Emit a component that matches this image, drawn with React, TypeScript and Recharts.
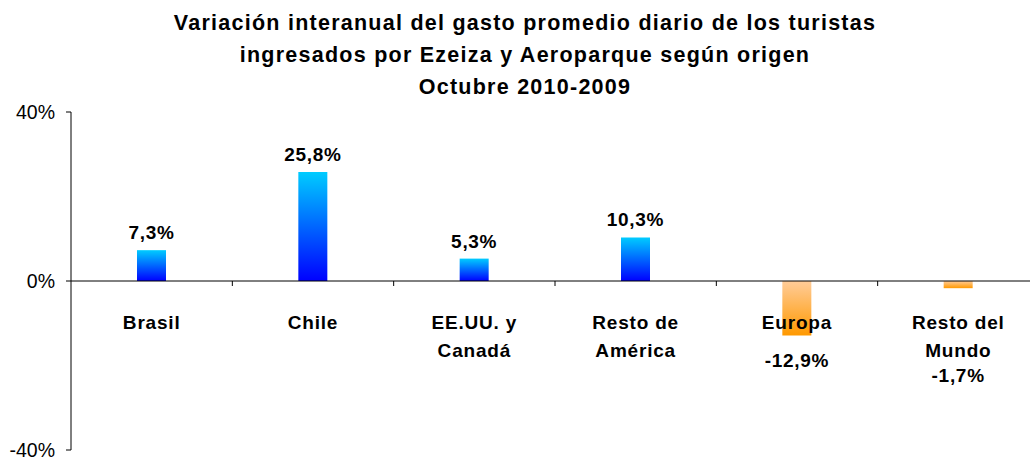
import { BarChart, Bar, XAxis, YAxis, ReferenceLine, LabelList, Cell } from "recharts";

const categories = [
  ["Brasil"],
  ["Chile"],
  ["EE.UU. y", "Canadá"],
  ["Resto de", "América"],
  ["Europa"],
  ["Resto del", "Mundo"],
];
const variation = [7.3, 25.8, 5.3, 10.3, -12.9, -1.7];
const yTicks = [-40, 0, 40];
const titleLines = [
  "Variación interanual del gasto promedio diario de los turistas",
  "ingresados por Ezeiza y Aeroparque según origen",
  "Octubre 2010-2009",
];

const W = 1030;
const H = 457;
const PLOT_TOP = 112;
const PLOT_BOTTOM = 450;
const ZERO_Y = (PLOT_TOP + PLOT_BOTTOM) / 2;
const FONT = '"Liberation Sans", Arial, Helvetica, sans-serif';
const BAND = (1039 - 71) / categories.length;

const data = categories.map((lines, i) => ({ key: lines.join(" "), lines, value: variation[i] }));

const fmt = (v: number) => `${v.toFixed(1).replace(".", ",")}%`;

// category labels hang under the zero line, Excel style
function CategoryTick(props: any) {
  const { x, index } = props;
  const lines: string[] = data[index]?.lines ?? [];
  return (
    <g>
      <line x1={x + BAND / 2} x2={x + BAND / 2} y1={ZERO_Y} y2={ZERO_Y + 5} stroke="#000" />
      <text x={x} textAnchor="middle" fontFamily={FONT} fontWeight="bold" fontSize={19} letterSpacing={0.8} fill="#000">
        {lines.map((l, i) => (
          <tspan key={i} x={x} y={ZERO_Y + 48 + i * 28}>
            {l}
          </tspan>
        ))}
      </text>
    </g>
  );
}

function ValueLabel(props: any) {
  const { x, y, width, height, value, index } = props;
  const top = Math.min(y, y + height);
  const bottom = Math.max(y, y + height);
  let baseline = top - 11;
  if (value < 0) {
    const nLines = data[index]?.lines.length ?? 1;
    const catBase = ZERO_Y + 48 + 28 * (nLines - 1);
    baseline = Math.max(bottom + 31, catBase + 25);
  }
  return (
    <text x={x + width / 2} y={baseline} textAnchor="middle" fontFamily={FONT} fontWeight="bold" fontSize={19} letterSpacing={0.7} fill="#000">
      {fmt(value)}
    </text>
  );
}

export default function App() {
  return (
    <div style={{ position: "absolute", left: 0, top: 0, width: W, height: H, background: "#fff", overflow: "hidden" }}>
      <div
        style={{
          position: "absolute",
          left: 20,
          top: 7,
          width: 1010,
          textAlign: "center",
          fontFamily: FONT,
          fontWeight: "bold",
          fontSize: 21.5,
          letterSpacing: 1.25,
          lineHeight: "32px",
          color: "#000",
        }}
      >
        {titleLines.map((t) => (
          <div key={t}>{t}</div>
        ))}
      </div>
      <BarChart width={W} height={H} data={data} margin={{ top: PLOT_TOP, right: -9, bottom: H - PLOT_BOTTOM - 1, left: 0 }}>
        <defs>
          <linearGradient id="gPos" x1="0" y1="0" x2="0" y2="1">
            <stop offset="0%" stopColor="#00CCFF" />
            <stop offset="100%" stopColor="#0000FF" />
          </linearGradient>
          <linearGradient id="gNeg" x1="0" y1="0" x2="0" y2="1">
            <stop offset="0%" stopColor="#FFCC99" />
            <stop offset="100%" stopColor="#FF9900" />
          </linearGradient>
        </defs>
        <XAxis dataKey="key" height={1} axisLine={false} tickLine={false} interval={0} tick={<CategoryTick />} />
        <YAxis
          width={71}
          domain={[-40, 40]}
          ticks={yTicks}
          interval={0}
          tickFormatter={(v: number) => `${v}%`}
          axisLine={{ stroke: "#000" }}
          tickLine={{ stroke: "#000" }}
          tickSize={5}
          tickMargin={11}
          tick={{ fill: "#000", fontSize: 19.5, fontFamily: FONT }}
        />
        <Bar dataKey="value" barSize={29} isAnimationActive={false}>
          {data.map((d) => (
            <Cell key={d.key} fill={d.value >= 0 ? "url(#gPos)" : "url(#gNeg)"} />
          ))}
          <LabelList dataKey="value" content={<ValueLabel />} />
        </Bar>
        <ReferenceLine y={0} stroke="#000" strokeWidth={1} ifOverflow="visible" />
      </BarChart>
    </div>
  );
}
